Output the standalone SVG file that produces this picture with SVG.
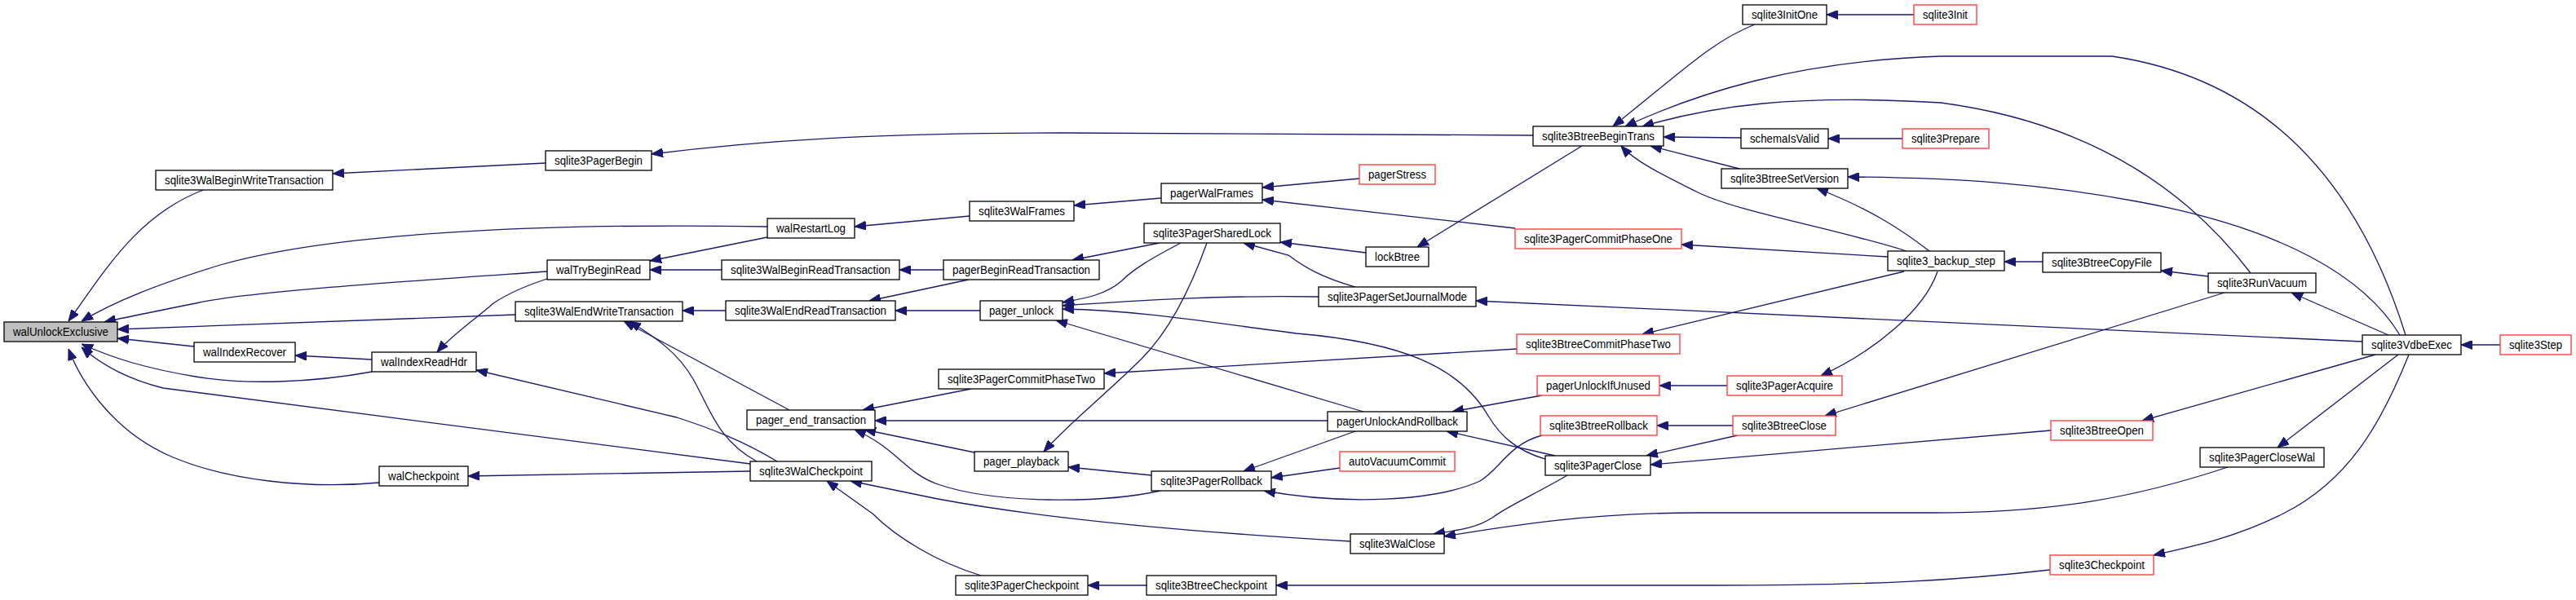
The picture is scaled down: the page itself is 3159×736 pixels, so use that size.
<svg xmlns="http://www.w3.org/2000/svg" width="3159" height="736" viewBox="0 0 3159 736">
<style>
.n rect{fill:#fff;stroke:#000;stroke-width:1.3}
.r rect{fill:#fff;stroke:#f33;stroke-width:1.3}
.g rect{fill:#bfbfbf;stroke:#000;stroke-width:1.3}
text{font-family:"Liberation Sans",Arial,sans-serif;font-size:14px;fill:#000;text-anchor:middle}
#edges path{fill:none;stroke:#191970;stroke-width:1.3;marker-end:url(#ah)}
</style>
<defs>
<marker id="ah" viewBox="0 0 14 11" refX="14" refY="5.5" markerWidth="14" markerHeight="11" markerUnits="userSpaceOnUse" orient="auto">
<path d="M0,0 L14,5.5 L0,11 z" fill="#191970" stroke="#191970" stroke-width="1"/>
</marker>
</defs>
<rect width="3159" height="736" fill="#fff"/>
<g id="edges">
<path d="M252,232 C170,262 130,330 84,394"/>
<path d="M941,278 C700,274 420,282 270,325 C190,350 140,370 100,394"/>
<path d="M671,333 C500,345 300,358 240,372 C190,382 150,390 128,395"/>
<path d="M632,386 L144,404"/>
<path d="M238,425 L144,415"/>
<path d="M456,456 C380,470 300,472 240,462 C180,452 140,440 100,422"/>
<path d="M920,569 L200,476 C160,466 125,448 100,426"/>
<path d="M465,592 C380,600 280,590 210,560 C140,530 100,470 84,428"/>
<path d="M669,200 L408,213"/>
<path d="M1880,166 L1300,163 C1100,163 950,170 799,189"/>
<path d="M1189,265 L1048,278"/>
<path d="M1424,243 L1317,252"/>
<path d="M1667,219 L1548,230"/>
<path d="M1858,280 L1548,245"/>
<path d="M941,291 L797,320"/>
<path d="M885,331 L797,331"/>
<path d="M1157,331 L1103,331"/>
<path d="M1422,298 L1315,319"/>
<path d="M671,342 C640,352 620,362 605,372 C585,390 555,410 536,432"/>
<path d="M456,441 L362,436"/>
<path d="M953,566 C910,540 870,525 830,512 L584,454"/>
<path d="M1202,381 L1098,381"/>
<path d="M890,381 L837,381"/>
<path d="M1188,343 L1066,369"/>
<path d="M968,503 L765,394"/>
<path d="M928,566 C880,540 870,500 850,465 C830,430 800,412 772,394"/>
<path d="M1191,477 L1058,503"/>
<path d="M1628,516 L1073,516"/>
<path d="M1195,555 L1060,527"/>
<path d="M1423,602 C1350,618 1220,618 1150,594 C1110,580 1100,550 1048,527"/>
<path d="M1448,298 C1410,318 1390,330 1375,345 C1355,362 1330,366 1303,371"/>
<path d="M1617,364 C1500,362 1400,368 1303,375"/>
<path d="M1895,563 C1860,553 1840,535 1825,510 C1790,450 1720,420 1590,409 C1480,395 1400,381 1303,379"/>
<path d="M1672,505 L1295,393"/>
<path d="M1480,298 C1465,340 1440,400 1400,440 C1360,480 1310,520 1280,554"/>
<path d="M1675,310 L1570,297"/>
<path d="M1662,352 C1620,340 1600,328 1580,313 L1525,298"/>
<path d="M2152,30 C2100,50 2060,90 1978,155"/>
<path d="M2950,411 C2900,250 2800,100 2590,69 L2380,69 C2200,75 2080,115 1993,155"/>
<path d="M2760,335 C2680,230 2560,150 2380,126 C2200,115 2100,130 2014,155"/>
<path d="M2135,169 L2040,168"/>
<path d="M2133,207 L2024,179"/>
<path d="M2338,308 C2250,280 2130,260 2080,235 C2040,215 2005,198 1988,179"/>
<path d="M1940,179 L1738,303"/>
<path d="M2347,18 L2240,18"/>
<path d="M2333,170 L2242,170"/>
<path d="M2943,411 C2900,340 2800,280 2620,247 C2500,225 2400,218 2266,217"/>
<path d="M2366,308 C2330,280 2290,255 2228,231"/>
<path d="M2315,315 L2062,300"/>
<path d="M2505,321 L2458,321"/>
<path d="M2708,339 L2650,332"/>
<path d="M2929,411 L2810,359"/>
<path d="M3066,423 L3018,423"/>
<path d="M2897,419 L1810,369"/>
<path d="M2376,333 C2360,380 2300,430 2233,461"/>
<path d="M2335,333 L2014,410"/>
<path d="M1860,428 L1354,458"/>
<path d="M2118,473 L2035,473"/>
<path d="M1891,485 L1781,505"/>
<path d="M2125,522 L2032,522"/>
<path d="M1891,534 C1850,545 1840,575 1815,590 C1760,615 1650,620 1550,602"/>
<path d="M1907,559 L1774,529"/>
<path d="M2131,534 L2019,559"/>
<path d="M2515,528 L2024,570"/>
<path d="M2728,359 L2238,510"/>
<path d="M2913,435 L2627,516"/>
<path d="M2941,435 L2793,549"/>
<path d="M2954,435 C2920,520 2880,590 2800,630 C2740,660 2690,670 2641,681"/>
<path d="M2732,573 C2620,610 2520,629 2370,629 L2080,629 C1950,629 1850,645 1771,658"/>
<path d="M1922,583 C1885,605 1850,620 1830,635 C1810,648 1790,650 1758,655"/>
<path d="M1656,664 C1500,655 1300,640 1150,612 L1043,590"/>
<path d="M1203,706 C1150,690 1100,660 1070,630 L1014,590"/>
<path d="M1412,583 L1310,573"/>
<path d="M1643,574 L1559,586"/>
<path d="M1662,529 L1525,578"/>
<path d="M1406,718 L1334,718"/>
<path d="M2514,699 C2400,712 2300,718 2100,718 L1565,718"/>
<path d="M920,578 L574,584"/>
</g>
<g id="walUnlockExclusive" class="g"><rect x="5" y="395" width="139" height="24"/><text x="74.5" y="412" textLength="117" lengthAdjust="spacingAndGlyphs">walUnlockExclusive</text></g>
<g id="sqlite3WalBeginWriteTransaction" class="n"><rect x="191" y="209" width="217" height="24"/><text x="299.5" y="226" textLength="195" lengthAdjust="spacingAndGlyphs">sqlite3WalBeginWriteTransaction</text></g>
<g id="sqlite3PagerBegin" class="n"><rect x="669" y="185" width="130" height="24"/><text x="734" y="202" textLength="108" lengthAdjust="spacingAndGlyphs">sqlite3PagerBegin</text></g>
<g id="walTryBeginRead" class="n"><rect x="671" y="319" width="126" height="24"/><text x="734" y="336" textLength="104" lengthAdjust="spacingAndGlyphs">walTryBeginRead</text></g>
<g id="pagerWalFrames" class="n"><rect x="1424" y="225" width="124" height="24"/><text x="1486" y="242" textLength="102" lengthAdjust="spacingAndGlyphs">pagerWalFrames</text></g>
<g id="sqlite3WalFrames" class="n"><rect x="1189" y="247" width="128" height="24"/><text x="1253" y="264" textLength="106" lengthAdjust="spacingAndGlyphs">sqlite3WalFrames</text></g>
<g id="walRestartLog" class="n"><rect x="941" y="268" width="107" height="24"/><text x="994.5" y="285" textLength="85" lengthAdjust="spacingAndGlyphs">walRestartLog</text></g>
<g id="sqlite3PagerSharedLock" class="n"><rect x="1403" y="274" width="167" height="24"/><text x="1486.5" y="291" textLength="145" lengthAdjust="spacingAndGlyphs">sqlite3PagerSharedLock</text></g>
<g id="sqlite3WalBeginReadTransaction" class="n"><rect x="885" y="319" width="218" height="24"/><text x="994" y="336" textLength="196" lengthAdjust="spacingAndGlyphs">sqlite3WalBeginReadTransaction</text></g>
<g id="pagerBeginReadTransaction" class="n"><rect x="1157" y="319" width="191" height="24"/><text x="1252.5" y="336" textLength="169" lengthAdjust="spacingAndGlyphs">pagerBeginReadTransaction</text></g>
<g id="sqlite3InitOne" class="n"><rect x="2137" y="6" width="103" height="24"/><text x="2188.5" y="23" textLength="81" lengthAdjust="spacingAndGlyphs">sqlite3InitOne</text></g>
<g id="sqlite3Init" class="r"><rect x="2347" y="6" width="77" height="24"/><text x="2385.5" y="23" textLength="55" lengthAdjust="spacingAndGlyphs">sqlite3Init</text></g>
<g id="sqlite3BtreeBeginTrans" class="n"><rect x="1880" y="155" width="160" height="24"/><text x="1960" y="172" textLength="138" lengthAdjust="spacingAndGlyphs">sqlite3BtreeBeginTrans</text></g>
<g id="schemaIsValid" class="n"><rect x="2135" y="158" width="107" height="24"/><text x="2188.5" y="175" textLength="85" lengthAdjust="spacingAndGlyphs">schemaIsValid</text></g>
<g id="sqlite3Prepare" class="r"><rect x="2333" y="158" width="106" height="24"/><text x="2386" y="175" textLength="84" lengthAdjust="spacingAndGlyphs">sqlite3Prepare</text></g>
<g id="pagerStress" class="r"><rect x="1667" y="202" width="93" height="24"/><text x="1713.5" y="219" textLength="71" lengthAdjust="spacingAndGlyphs">pagerStress</text></g>
<g id="sqlite3BtreeSetVersion" class="n"><rect x="2111" y="207" width="155" height="24"/><text x="2188.5" y="224" textLength="133" lengthAdjust="spacingAndGlyphs">sqlite3BtreeSetVersion</text></g>
<g id="sqlite3PagerCommitPhaseOne" class="r"><rect x="1858" y="281" width="204" height="24"/><text x="1960" y="298" textLength="182" lengthAdjust="spacingAndGlyphs">sqlite3PagerCommitPhaseOne</text></g>
<g id="lockBtree" class="n"><rect x="1675" y="303" width="77" height="24"/><text x="1713.5" y="320" textLength="55" lengthAdjust="spacingAndGlyphs">lockBtree</text></g>
<g id="sqlite3_backup_step" class="n"><rect x="2315" y="308" width="143" height="24"/><text x="2386.5" y="325" textLength="121" lengthAdjust="spacingAndGlyphs">sqlite3_backup_step</text></g>
<g id="sqlite3BtreeCopyFile" class="n"><rect x="2505" y="310" width="145" height="24"/><text x="2577.5" y="327" textLength="123" lengthAdjust="spacingAndGlyphs">sqlite3BtreeCopyFile</text></g>
<g id="sqlite3RunVacuum" class="n"><rect x="2708" y="335" width="132" height="24"/><text x="2774" y="352" textLength="110" lengthAdjust="spacingAndGlyphs">sqlite3RunVacuum</text></g>
<g id="sqlite3PagerSetJournalMode" class="n"><rect x="1617" y="352" width="193" height="24"/><text x="1713.5" y="369" textLength="171" lengthAdjust="spacingAndGlyphs">sqlite3PagerSetJournalMode</text></g>
<g id="sqlite3WalEndWriteTransaction" class="n"><rect x="632" y="370" width="205" height="24"/><text x="734.5" y="387" textLength="183" lengthAdjust="spacingAndGlyphs">sqlite3WalEndWriteTransaction</text></g>
<g id="sqlite3WalEndReadTransaction" class="n"><rect x="890" y="369" width="208" height="24"/><text x="994" y="386" textLength="186" lengthAdjust="spacingAndGlyphs">sqlite3WalEndReadTransaction</text></g>
<g id="pager_unlock" class="n"><rect x="1202" y="369" width="101" height="24"/><text x="1252.5" y="386" textLength="79" lengthAdjust="spacingAndGlyphs">pager_unlock</text></g>
<g id="walIndexRecover" class="n"><rect x="238" y="420" width="124" height="24"/><text x="300" y="437" textLength="102" lengthAdjust="spacingAndGlyphs">walIndexRecover</text></g>
<g id="walIndexReadHdr" class="n"><rect x="456" y="432" width="128" height="24"/><text x="520" y="449" textLength="106" lengthAdjust="spacingAndGlyphs">walIndexReadHdr</text></g>
<g id="sqlite3PagerCommitPhaseTwo" class="n"><rect x="1151" y="453" width="203" height="24"/><text x="1252.5" y="470" textLength="181" lengthAdjust="spacingAndGlyphs">sqlite3PagerCommitPhaseTwo</text></g>
<g id="pager_end_transaction" class="n"><rect x="916" y="503" width="157" height="24"/><text x="994.5" y="520" textLength="135" lengthAdjust="spacingAndGlyphs">pager_end_transaction</text></g>
<g id="pager_playback" class="n"><rect x="1195" y="554" width="115" height="24"/><text x="1252.5" y="571" textLength="93" lengthAdjust="spacingAndGlyphs">pager_playback</text></g>
<g id="sqlite3WalCheckpoint" class="n"><rect x="920" y="566" width="149" height="24"/><text x="994.5" y="583" textLength="127" lengthAdjust="spacingAndGlyphs">sqlite3WalCheckpoint</text></g>
<g id="sqlite3PagerRollback" class="n"><rect x="1412" y="578" width="147" height="24"/><text x="1485.5" y="595" textLength="125" lengthAdjust="spacingAndGlyphs">sqlite3PagerRollback</text></g>
<g id="walCheckpoint" class="n"><rect x="465" y="572" width="109" height="24"/><text x="519.5" y="589" textLength="87" lengthAdjust="spacingAndGlyphs">walCheckpoint</text></g>
<g id="sqlite3PagerCheckpoint" class="n"><rect x="1172" y="706" width="162" height="24"/><text x="1253" y="723" textLength="140" lengthAdjust="spacingAndGlyphs">sqlite3PagerCheckpoint</text></g>
<g id="sqlite3BtreeCheckpoint" class="n"><rect x="1406" y="706" width="159" height="24"/><text x="1485.5" y="723" textLength="137" lengthAdjust="spacingAndGlyphs">sqlite3BtreeCheckpoint</text></g>
<g id="sqlite3BtreeCommitPhaseTwo" class="r"><rect x="1860" y="410" width="200" height="24"/><text x="1960" y="427" textLength="178" lengthAdjust="spacingAndGlyphs">sqlite3BtreeCommitPhaseTwo</text></g>
<g id="pagerUnlockIfUnused" class="r"><rect x="1885" y="461" width="150" height="24"/><text x="1960" y="478" textLength="128" lengthAdjust="spacingAndGlyphs">pagerUnlockIfUnused</text></g>
<g id="sqlite3PagerAcquire" class="r"><rect x="2118" y="461" width="141" height="24"/><text x="2188.5" y="478" textLength="119" lengthAdjust="spacingAndGlyphs">sqlite3PagerAcquire</text></g>
<g id="pagerUnlockAndRollback" class="n"><rect x="1628" y="505" width="171" height="24"/><text x="1713.5" y="522" textLength="149" lengthAdjust="spacingAndGlyphs">pagerUnlockAndRollback</text></g>
<g id="sqlite3BtreeRollback" class="r"><rect x="1889" y="510" width="143" height="24"/><text x="1960.5" y="527" textLength="121" lengthAdjust="spacingAndGlyphs">sqlite3BtreeRollback</text></g>
<g id="sqlite3BtreeClose" class="r"><rect x="2125" y="510" width="126" height="24"/><text x="2188" y="527" textLength="104" lengthAdjust="spacingAndGlyphs">sqlite3BtreeClose</text></g>
<g id="autoVacuumCommit" class="r"><rect x="1643" y="554" width="141" height="24"/><text x="1713.5" y="571" textLength="119" lengthAdjust="spacingAndGlyphs">autoVacuumCommit</text></g>
<g id="sqlite3PagerClose" class="n"><rect x="1895" y="559" width="129" height="24"/><text x="1959.5" y="576" textLength="107" lengthAdjust="spacingAndGlyphs">sqlite3PagerClose</text></g>
<g id="sqlite3WalClose" class="n"><rect x="1656" y="655" width="115" height="24"/><text x="1713.5" y="672" textLength="93" lengthAdjust="spacingAndGlyphs">sqlite3WalClose</text></g>
<g id="sqlite3VdbeExec" class="n"><rect x="2897" y="411" width="121" height="24"/><text x="2957.5" y="428" textLength="99" lengthAdjust="spacingAndGlyphs">sqlite3VdbeExec</text></g>
<g id="sqlite3Step" class="r"><rect x="3066" y="411" width="87" height="24"/><text x="3109.5" y="428" textLength="65" lengthAdjust="spacingAndGlyphs">sqlite3Step</text></g>
<g id="sqlite3BtreeOpen" class="r"><rect x="2515" y="516" width="125" height="24"/><text x="2577.5" y="533" textLength="103" lengthAdjust="spacingAndGlyphs">sqlite3BtreeOpen</text></g>
<g id="sqlite3PagerCloseWal" class="n"><rect x="2698" y="549" width="152" height="24"/><text x="2774" y="566" textLength="130" lengthAdjust="spacingAndGlyphs">sqlite3PagerCloseWal</text></g>
<g id="sqlite3Checkpoint" class="r"><rect x="2514" y="681" width="127" height="24"/><text x="2577.5" y="698" textLength="105" lengthAdjust="spacingAndGlyphs">sqlite3Checkpoint</text></g>
</svg>
